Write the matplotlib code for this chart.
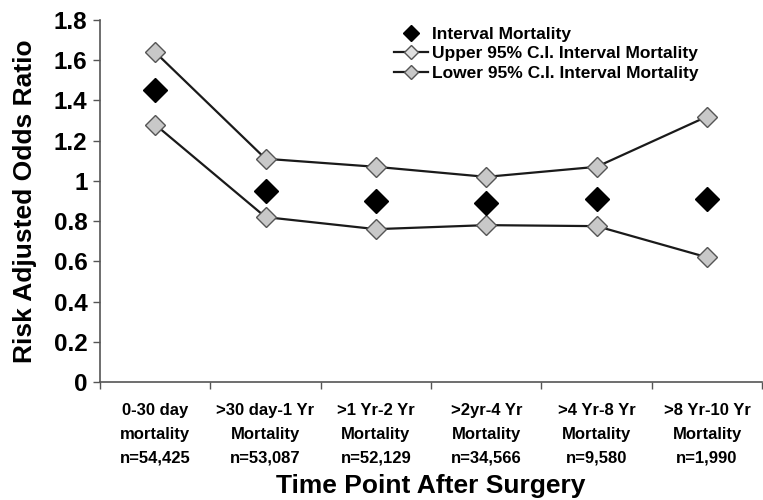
import numpy as np
import matplotlib.pyplot as plt
from matplotlib.lines import Line2D

plt.rcParams['font.family'] = ['Liberation Sans', 'DejaVu Sans']
plt.rcParams['font.weight'] = 'bold'

categories = ["0-30 day\nmortality\nn=54,425",
              ">30 day-1 Yr\nMortality\nn=53,087",
              ">1 Yr-2 Yr\nMortality\nn=52,129",
              ">2yr-4 Yr\nMortality\nn=34,566",
              ">4 Yr-8 Yr\nMortality\nn=9,580",
              ">8 Yr-10 Yr\nMortality\nn=1,990"]
interval = [1.45, 0.95, 0.90, 0.89, 0.91, 0.91]
upper = [1.64, 1.11, 1.07, 1.02, 1.07, 1.32]
lower = [1.28, 0.82, 0.76, 0.78, 0.775, 0.62]

fig = plt.figure(figsize=(7.63, 5.0), dpi=100)
ax = fig.add_axes([0.131, 0.236, 0.868, 0.724])

x = np.arange(len(categories))
ax.plot(x, upper, color='#1a1a1a', lw=1.6, marker='D', ms=10,
        mfc='#c8c8c8', mec='#555555', mew=1.0)
ax.plot(x, lower, color='#1a1a1a', lw=1.6, marker='D', ms=10,
        mfc='#c8c8c8', mec='#555555', mew=1.0)
ax.plot(x, interval, ls='none', marker='D', ms=12, color='black')

ax.set_xlim(-0.5, len(categories) - 0.5)
ax.set_ylim(0, 1.8)
ax.set_yticks([0, 0.2, 0.4, 0.6, 0.8, 1, 1.2, 1.4, 1.6, 1.8])
ax.set_yticklabels(['0', '0.2', '0.4', '0.6', '0.8', '1', '1.2', '1.4', '1.6', '1.8'],
                   fontsize=17.5, fontweight='bold')
ax.set_xticks(np.arange(len(categories) + 1) - 0.5)
ax.set_xticklabels([])
ax.set_xticks(x, minor=True)
ax.set_xticklabels(categories, minor=True, fontsize=12, fontweight='bold',
                   linespacing=1.75)
ax.tick_params(axis='x', which='minor', length=0, pad=15)
ax.tick_params(axis='x', which='major', length=5, width=1, color='#555555')
ax.tick_params(axis='y', length=5, width=1, color='#555555', pad=4)

for side in ['top', 'right']:
    ax.spines[side].set_visible(False)
for side in ['left', 'bottom']:
    ax.spines[side].set_color('#555555')
    ax.spines[side].set_linewidth(1.2)

ax.set_ylabel('Risk Adjusted Odds Ratio', fontsize=19, fontweight='bold', labelpad=12)
ax.set_xlabel('Time Point After Surgery', fontsize=19, fontweight='bold', labelpad=6)

handles = [
    Line2D([], [], ls='none', marker='D', ms=8, color='black'),
    Line2D([], [], color='#1a1a1a', lw=1.6, marker='D', ms=7,
           mfc='#e0e0e0', mec='#555555'),
    Line2D([], [], color='#1a1a1a', lw=1.6, marker='D', ms=7,
           mfc='#c8c8c8', mec='#555555'),
]
labels = ['Interval Mortality', 'Upper 95% C.I. Interval Mortality',
          'Lower 95% C.I. Interval Mortality']
ax.legend(handles, labels, loc='upper left', bbox_to_anchor=(0.42, 1.025),
          frameon=False, handlelength=2.0, handletextpad=0.2,
          labelspacing=0.25, prop={'weight': 'bold', 'size': 12.5})

fig.savefig('out.png', dpi=100)
